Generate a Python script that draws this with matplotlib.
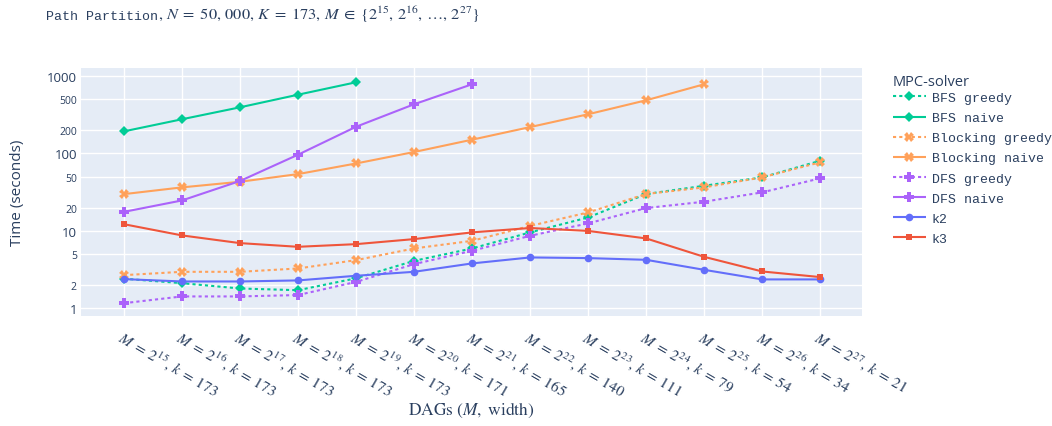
import matplotlib
matplotlib.use("Agg")
import matplotlib.pyplot as plt
import numpy as np

# ---- data -------------------------------------------------------------
exponents = list(range(15, 28))
widths = [173, 173, 173, 173, 173, 171, 165, 140, 111, 79, 54, 34, 21]
tick_labels = [rf"$M\;=\;2^{{{e}}},\,k\;=\;{w}$" for e, w in zip(exponents, widths)]

bfs_greedy = [2.42, 2.12, 1.81, 1.72, 2.45, 4.11, 5.94, 9.57, 14.9, 29.9, 38.2, 49.0, 80.3]
bfs_naive = [192, 275, 392, 570, 824]
blocking_greedy = [2.69, 2.97, 2.97, 3.28, 4.2, 5.94, 7.45, 11.6, 17.3, 29.9, 36.4, 49.0, 76.6]
blocking_naive = [29.8, 36.4, 43, 54, 74, 104, 150, 218, 319, 483, 777]
dfs_greedy = [1.17, 1.43, 1.43, 1.49, 2.2, 3.73, 5.54, 8.65, 12.5, 19.7, 23.8, 31.4, 47.6]
dfs_naive = [17.6, 24.7, 44, 96, 220, 429, 777]
k2 = [2.39, 2.23, 2.23, 2.30, 2.64, 2.97, 3.81, 4.55, 4.46, 4.24, 3.15, 2.37, 2.37]
k3 = [12.2, 8.75, 6.96, 6.24, 6.75, 7.84, 9.57, 10.9, 10.0, 8.0, 4.63, 3.0, 2.54]

series_names = ["BFS greedy", "BFS naive", "Blocking greedy", "Blocking naive",
                "DFS greedy", "DFS naive", "k2", "k3"]
series_values = [bfs_greedy, bfs_naive, blocking_greedy, blocking_naive,
                 dfs_greedy, dfs_naive, k2, k3]

y_ticks = [1, 2, 5, 10, 20, 50, 100, 200, 500, 1000]

# ---- styling ----------------------------------------------------------
TEXT = "#2a3f5f"
GREEN, ORANGE, PURPLE, BLUE, RED = "#00cc96", "#FFA15A", "#ab63fa", "#636efa", "#EF553B"
styles = {
    "BFS greedy": (GREEN, "dot", "D", 4.8),
    "BFS naive": (GREEN, "solid", "D", 4.8),
    "Blocking greedy": (ORANGE, "dot", "X", 6.5),
    "Blocking naive": (ORANGE, "solid", "X", 6.5),
    "DFS greedy": (PURPLE, "dot", "P", 7.0),
    "DFS naive": (PURPLE, "solid", "P", 7.0),
    "k2": (BLUE, "solid", "o", 5.5),
    "k3": (RED, "solid", "s", 5.0),
}

plt.rcParams["mathtext.fontset"] = "stix"
plt.rcParams["font.family"] = ["Open Sans", "DejaVu Sans"]

W, H = 1052, 427
fig = plt.figure(figsize=(W / 100, H / 100), dpi=100)
left, right, top, bottom = 81, 862, 69, 317
ax = fig.add_axes([left / W, 1 - bottom / H, (right - left) / W, (bottom - top) / H])
ax.set_facecolor("#E5ECF6")
for s in ax.spines.values():
    s.set_visible(False)

lines = []
for z, (name, vals) in enumerate(zip(series_names, series_values)):
    color, dash, marker, ms = styles[name]
    xs = np.arange(len(vals))
    ls = (0, (1.5, 1.5)) if dash == "dot" else "-"
    (ln,) = ax.plot(xs, vals, color=color, linestyle=ls, linewidth=1.5,
                    marker=marker, markersize=ms, markeredgewidth=0,
                    label=name, zorder=3 + z, solid_capstyle="butt",
                    dash_capstyle="butt")
    lines.append(ln)

ax.set_yscale("log")
ax.set_ylim(0.80, 1259)
ax.set_xlim(-0.74, 12.72)
ax.set_yticks(y_ticks)
ax.yaxis.set_minor_locator(matplotlib.ticker.NullLocator())
ax.set_yticklabels([str(v) for v in y_ticks])
for lbl, v in zip(ax.get_yticklabels(), y_ticks):
    lbl.set_fontsize(9.5 if v in (1, 10, 100, 1000) else 7.5)
    lbl.set_color(TEXT)
ax.tick_params(axis="y", length=0, pad=3)

ax.set_xticks(np.arange(len(tick_labels)))
ax.set_xticklabels(tick_labels, rotation=-30, ha="left", va="top",
                   rotation_mode="anchor", fontsize=11, color=TEXT)
ax.tick_params(axis="x", length=0, pad=8)

ax.grid(True, color="white", linewidth=1.0)
ax.set_axisbelow(True)

fig.text(18 / W, 1 - 193 / H, "Time (seconds)", rotation=90, ha="center",
         va="center", fontsize=11, color=TEXT)
fig.text((left + right) / 2 / W, 1 - 410 / H, r"$\mathrm{DAGs}\ (M,\ \mathrm{width})$",
         ha="center", va="center", fontsize=12.5, color=TEXT)

# title: typewriter part followed by math part
t1 = fig.text(46 / W, 1 - 19.5 / H, "Path Partition", family="Liberation Mono",
              fontsize=9.5, color=TEXT, va="baseline", ha="left")
fig.canvas.draw()
bb = t1.get_window_extent(fig.canvas.get_renderer())
fig.text(bb.x1 / W, 1 - 19.5 / H,
         r"$,\,N\;=\;50,\,000,\,K\;=\;173,\,M\;\in\;\{2^{15},\,2^{16},\,\ldots,\,2^{27}\}$",
         fontsize=11.8, color=TEXT, va="baseline", ha="left")

leg = fig.legend(handles=lines, loc="upper left",
                 bbox_to_anchor=(893 / W, 1 - 75 / H), frameon=False,
                 borderpad=0, borderaxespad=0, handlelength=2.5,
                 handletextpad=0.45, labelspacing=0.6,
                 prop={"family": "Liberation Mono", "size": 9.5},
                 title="MPC-solver",
                 title_fontproperties={"family": "Open Sans", "size": 10.5},
                 alignment="left")
leg._legend_box.sep = 2
for t in leg.get_texts():
    t.set_color(TEXT)
leg.get_title().set_color(TEXT)

fig.savefig("out.png", dpi=100)
